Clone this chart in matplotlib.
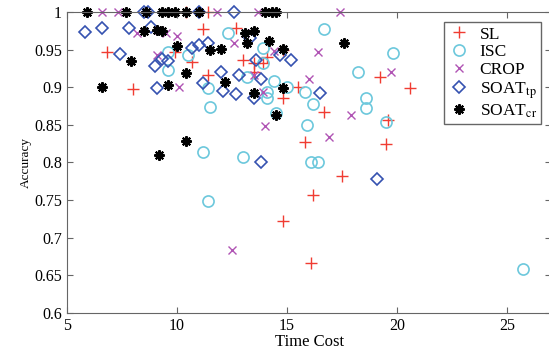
import matplotlib
matplotlib.use("Agg")
import matplotlib.pyplot as plt
from matplotlib.ticker import FormatStrFormatter, MultipleLocator

plt.rcParams["font.family"] = ["Liberation Serif", "DejaVu Serif"]
plt.rcParams["mathtext.fontset"] = "stix"

# time cost / accuracy per method
sl_x = [10.4, 11.4, 6.8, 8.0, 9.9, 10.7, 11.4, 11.2, 12.7, 13.0, 13.5, 13.9, 13.5, 14.1,
        14.8, 15.5, 14.8, 16.7, 19.2, 20.6, 19.6, 19.5, 15.8, 17.5, 16.2, 14.8, 16.1]
sl_y = [1.0, 1.0, 0.947, 0.897, 0.947, 0.934, 0.916, 0.977, 0.979, 0.936, 0.932, 0.932, 0.920, 0.940,
        0.949, 0.900, 0.886, 0.867, 0.914, 0.899, 0.857, 0.824, 0.827, 0.782, 0.757, 0.722, 0.666]

isc_x = [12.3, 9.6, 10.5, 9.6, 11.4, 11.5, 11.2, 11.4, 16.7, 13.9, 19.8, 13.9, 18.2, 13.2, 14.4,
         15.0, 15.8, 14.1, 14.1, 16.2, 18.6, 18.6, 19.5, 14.5, 15.9, 13.0, 16.1, 16.4, 25.7]
isc_y = [0.972, 0.947, 0.943, 0.923, 0.899, 0.874, 0.814, 0.749, 0.977, 0.952, 0.946, 0.932, 0.920, 0.914, 0.908,
         0.900, 0.894, 0.894, 0.886, 0.878, 0.886, 0.872, 0.854, 0.866, 0.850, 0.807, 0.800, 0.800, 0.658]

crop_x = [6.6, 7.3, 11.8, 13.7, 17.4, 8.2, 9.2, 9.5, 10.0, 9.1, 10.1, 12.6, 13.1, 14.4, 16.4,
          13.5, 16.0, 19.7, 17.9, 14.0, 16.9, 13.9, 12.5]
crop_y = [1.0, 1.0, 1.0, 1.0, 1.0, 0.972, 0.976, 0.972, 0.968, 0.943, 0.900, 0.958, 0.972, 0.948, 0.947,
          0.916, 0.911, 0.920, 0.863, 0.848, 0.834, 0.894, 0.684]

tp_x = [8.5, 8.7, 11.0, 12.6, 5.8, 6.6, 7.8, 8.8, 7.4, 9.0, 9.3, 9.6, 9.1, 10.7, 11.0, 11.4, 11.2,
        12.0, 12.1, 12.7, 13.3, 13.6, 14.7, 15.2, 12.8, 13.8, 13.5, 16.5, 13.8, 19.1]
tp_y = [1.0, 1.0, 1.0, 1.0, 0.973, 0.979, 0.978, 0.980, 0.944, 0.928, 0.938, 0.935, 0.899, 0.952, 0.956, 0.959, 0.905,
        0.920, 0.895, 0.891, 0.965, 0.936, 0.943, 0.936, 0.916, 0.911, 0.886, 0.892, 0.800, 0.778]

cr_x = [5.9, 7.7, 8.6, 9.3, 9.6, 9.9, 10.4, 11.0, 14.0, 14.3, 14.5,
        8.5, 9.1, 9.3, 7.9, 10.0, 10.4, 6.6, 9.6, 11.5, 12.0, 12.2, 10.4, 9.2,
        13.1, 13.5, 13.2, 14.2, 14.8, 17.6, 13.5, 14.8, 14.5]
cr_y = [1.0, 1.0, 1.0, 1.0, 1.0, 1.0, 1.0, 1.0, 1.0, 1.0, 1.0,
        0.975, 0.976, 0.975, 0.935, 0.955, 0.919, 0.900, 0.903, 0.949, 0.951, 0.907, 0.829, 0.810,
        0.972, 0.975, 0.958, 0.961, 0.951, 0.958, 0.892, 0.899, 0.863]

fig = plt.figure(figsize=(5.49, 3.49), dpi=100)
ax = fig.add_axes([0.122, 0.103, 0.882, 0.863])

ax.plot(sl_x, sl_y, "+", color="#f03c32", ms=9, mew=1.0, ls="none", label="SL", clip_on=False)
ax.plot(isc_x, isc_y, "o", color="#6cc8dc", mfc="none", ms=8, mew=1.2, ls="none", label="ISC", clip_on=False)
ax.plot(crop_x, crop_y, "x", color="#b054b4", ms=6, mew=1.0, ls="none", label="CROP", clip_on=False)
ax.plot(tp_x, tp_y, "D", color="#3552b0", mfc="none", ms=6.5, mew=1.2, ls="none",
        label=r"SOAT$_{\mathrm{tp}}$", clip_on=False)
ax.plot(cr_x, cr_y, marker=(8, 2, 0), color="black", ms=7.5, mew=1.5, ls="none",
        label=r"SOAT$_{\mathrm{cr}}$", clip_on=False)

ax.set_xlim(5, 27)
ax.set_ylim(0.6, 1.0)
ax.xaxis.set_major_locator(MultipleLocator(5))
ax.yaxis.set_major_locator(MultipleLocator(0.05))
ax.yaxis.set_major_formatter(FormatStrFormatter("%g"))
ax.tick_params(direction="in", top=True, right=True, length=4, color="#666666",
               labelsize=11.5)
for s in ax.spines.values():
    s.set_color("#666666")

ax.set_xlabel("Time Cost", fontsize=12, labelpad=0)
ax.set_ylabel("Accuracy", fontsize=9.5, labelpad=2)

leg = ax.legend(loc="upper right", bbox_to_anchor=(0.997, 0.995), fontsize=12.5,
                handletextpad=0.6, borderpad=0.25, labelspacing=0.1, handlelength=1.2,
                fancybox=False, framealpha=1)
leg.get_frame().set_edgecolor("#666666")

fig.savefig("out.png", dpi=100)
